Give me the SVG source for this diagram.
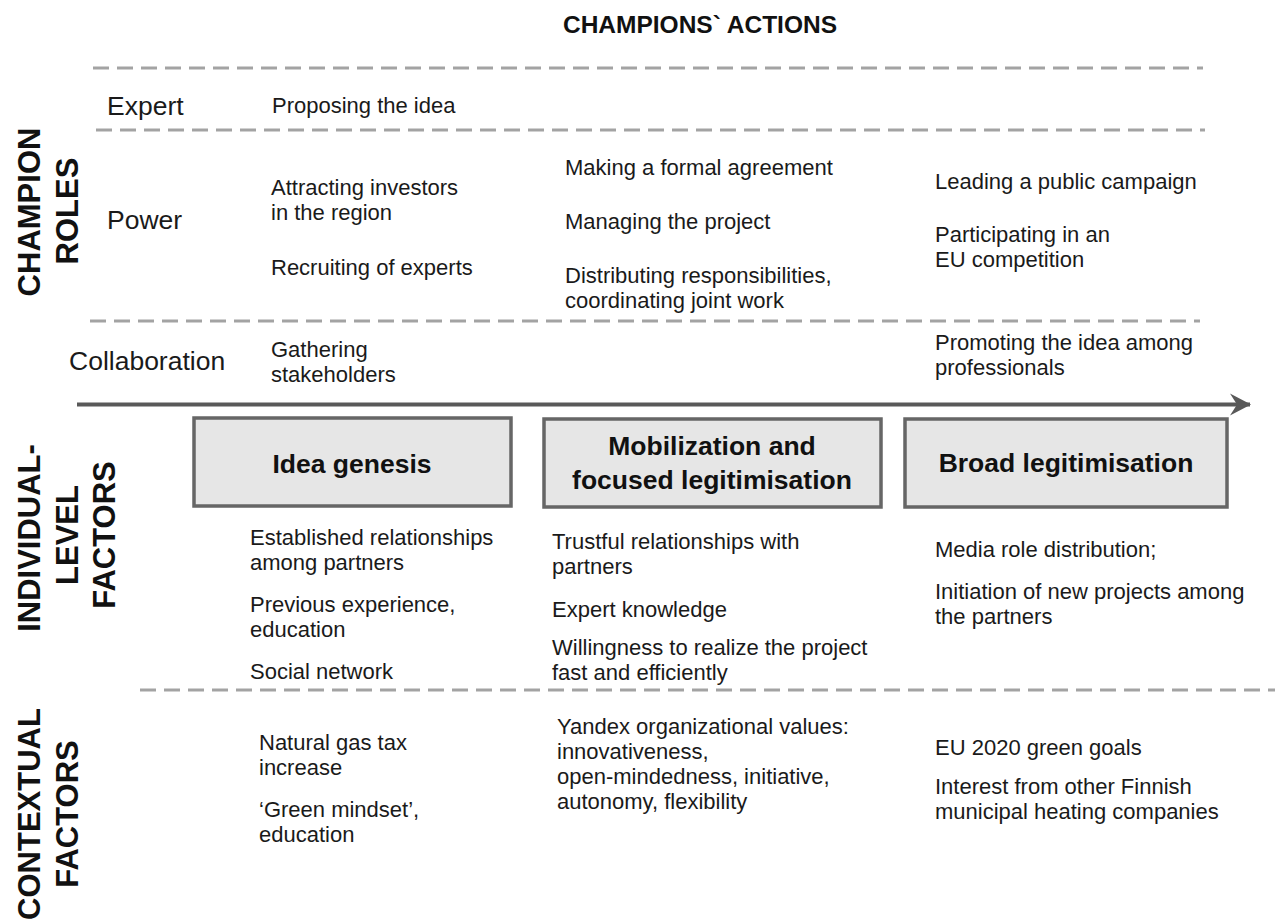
<svg xmlns="http://www.w3.org/2000/svg" width="1280" height="919" viewBox="0 0 1280 919">
<style>
  .t { font-family: "Liberation Sans", Arial, sans-serif; font-size: 22px; fill: #1a1a1a; }
  .role { font-family: "Liberation Sans", Arial, sans-serif; font-size: 26.5px; fill: #1a1a1a; }
  .title { font-family: "Liberation Sans", Arial, sans-serif; font-size: 24.5px; font-weight: bold; fill: #111; }
  .side { font-family: "Liberation Sans", Arial, sans-serif; font-size: 31px; font-weight: bold; fill: #111; text-anchor: middle; }
  .box { fill: #e6e6e6; stroke: #666; stroke-width: 3.5; }
  .bl { font-family: "Liberation Sans", Arial, sans-serif; font-size: 26.5px; font-weight: bold; fill: #111; text-anchor: middle; }
  .dash { stroke: #a3a3a3; stroke-width: 3; stroke-dasharray: 16 8; fill: none; }
  .arrow { stroke: #595959; stroke-width: 4; fill: none; }
</style>
<defs>
  <marker id="ah" markerUnits="userSpaceOnUse" markerWidth="24" markerHeight="26" refX="20" refY="12" orient="auto">
    <polygon points="0,1 21,12 0,23 7,12" fill="#595959"/>
  </marker>
</defs>
<rect width="1280" height="919" fill="#fff"/>

<text class="title" x="700" y="33" text-anchor="middle">CHAMPIONS` ACTIONS</text>

<g id="separators">
  <line class="dash" x1="93" y1="68" x2="1203" y2="68"/>
  <line class="dash" x1="96" y1="130" x2="1205" y2="130"/>
  <line class="dash" x1="90" y1="321" x2="1200" y2="321"/>
  <line class="dash" x1="140" y1="690" x2="1275" y2="690"/>
</g>

<g id="side-labels">
  <text class="side" transform="translate(40,212) rotate(-90)">CHAMPION</text>
  <text class="side" transform="translate(78,211) rotate(-90)">ROLES</text>
  <text class="side" transform="translate(40,538) rotate(-90)">INDIVIDUAL-</text>
  <text class="side" transform="translate(78,535) rotate(-90)">LEVEL</text>
  <text class="side" transform="translate(115,535) rotate(-90)">FACTORS</text>
  <text class="side" transform="translate(40,814) rotate(-90)">CONTEXTUAL</text>
  <text class="side" transform="translate(78,814) rotate(-90)">FACTORS</text>
</g>

<g id="roles">
  <text class="role" x="107" y="115">Expert</text>
  <text class="role" x="107" y="229">Power</text>
  <text class="role" x="69" y="370">Collaboration</text>
</g>

<g id="actions">
  <text class="t" x="272" y="113">Proposing the idea</text>
  <text class="t" x="271" y="195">Attracting investors<tspan x="271" y="220">in the region</tspan></text>
  <text class="t" x="271" y="275">Recruiting of experts</text>
  <text class="t" x="271" y="357">Gathering<tspan x="271" y="382">stakeholders</tspan></text>
  <text class="t" x="565" y="175">Making a formal agreement</text>
  <text class="t" x="565" y="229">Managing the project</text>
  <text class="t" x="565" y="283">Distributing responsibilities,<tspan x="565" y="308">coordinating joint work</tspan></text>
  <text class="t" x="935" y="189">Leading a public campaign</text>
  <text class="t" x="935" y="242">Participating in an<tspan x="935" y="267">EU competition</tspan></text>
  <text class="t" x="935" y="350">Promoting the idea among<tspan x="935" y="375">professionals</tspan></text>
</g>

<g id="connectors">
  <line class="arrow" x1="77" y1="404.5" x2="1250" y2="404.5" marker-end="url(#ah)"/>
</g>

<g id="stage-idea-genesis">
  <rect class="box" x="194" y="418" width="317" height="88"/>
  <text class="bl" x="352" y="473">Idea genesis</text>
</g>
<g id="stage-mobilization">
  <rect class="box" x="544" y="419" width="337" height="88"/>
  <text class="bl" x="712" y="455">Mobilization and<tspan x="712" y="489">focused legitimisation</tspan></text>
</g>
<g id="stage-broad">
  <rect class="box" x="905" y="419" width="322" height="88"/>
  <text class="bl" x="1066" y="472">Broad legitimisation</text>
</g>

<g id="individual-factors">
  <text class="t" x="250" y="545">Established relationships<tspan x="250" y="570">among partners</tspan></text>
  <text class="t" x="250" y="612">Previous experience,<tspan x="250" y="637">education</tspan></text>
  <text class="t" x="250" y="679">Social network</text>
  <text class="t" x="552" y="549">Trustful relationships with<tspan x="552" y="574">partners</tspan></text>
  <text class="t" x="552" y="617">Expert knowledge</text>
  <text class="t" x="552" y="655">Willingness to realize the project<tspan x="552" y="680">fast and efficiently</tspan></text>
  <text class="t" x="935" y="557">Media role distribution;</text>
  <text class="t" x="935" y="599">Initiation of new projects among<tspan x="935" y="624">the partners</tspan></text>
</g>

<g id="contextual-factors">
  <text class="t" x="259" y="750">Natural gas tax<tspan x="259" y="775">increase</tspan></text>
  <text class="t" x="259" y="817">‘Green mindset’,<tspan x="259" y="842">education</tspan></text>
  <text class="t" x="557" y="734">Yandex organizational values:<tspan x="557" y="759">innovativeness,</tspan><tspan x="557" y="784">open-mindedness, initiative,</tspan><tspan x="557" y="809">autonomy, flexibility</tspan></text>
  <text class="t" x="935" y="755">EU 2020 green goals</text>
  <text class="t" x="935" y="794">Interest from other Finnish<tspan x="935" y="819">municipal heating companies</tspan></text>
</g>
</svg>
